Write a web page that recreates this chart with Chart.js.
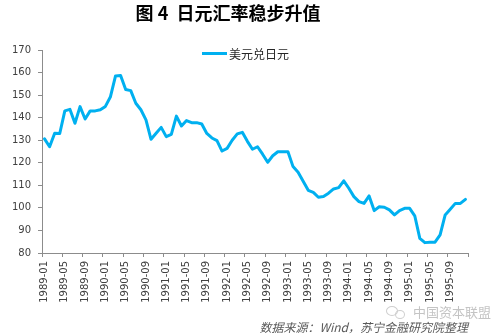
<!DOCTYPE html>
<html>
<head>
<meta charset="utf-8">
<script src="https://cdn.jsdelivr.net/npm/chart.js@4.4.1/dist/chart.umd.min.js"></script>
<style>
  html, body { margin: 0; padding: 0; background: #fff; }
  #wrap { position: relative; width: 500px; height: 334px; overflow: hidden; background: #fff; }
  #chart { position: absolute; left: 0; top: 0; }
  #title { position: absolute; left: 0; top: 0; width: 456px; text-align: center;
           font: bold 18px "Noto Sans CJK SC", sans-serif; line-height: 24px; color: #000; }
  #legend { position: absolute; left: 202px; top: 45px; height: 16px; display: flex; align-items: center;
            font: 12px "Noto Sans CJK SC", sans-serif; color: #262626; white-space: nowrap; }
  #legend i { display: inline-block; width: 25px; height: 3px; margin-right: 2px; }
  #mark { position: absolute; left: 386px; top: 302px; height: 18px; display: flex; align-items: center;
          font: 13px "Noto Sans CJK SC", sans-serif; color: #c4c4c4; white-space: nowrap; }
  #mark b { display: inline-block; width: 10px; height: 8px; border: 1.5px solid #cfcfcf; border-radius: 50%; margin-right: 2px; }
  #mark b + b { width: 8px; height: 7px; margin-right: 8px; margin-left: -5px; margin-top: 6px; }
  #source { position: absolute; right: 32px; top: 318px; font: italic 12px "Noto Sans CJK SC", sans-serif;
            line-height: 18px; color: #595959; white-space: nowrap; }
</style>
</head>
<body>
<div id="wrap">
  <canvas id="chart" width="500" height="334"></canvas>
  <div id="title">图 4&nbsp; 日元汇率稳步升值</div>
  <div id="legend"><i id="legendSwatch"></i><span id="legendText"></span></div>
  <div id="mark"><b></b><b></b>中国资本联盟</div>
  <div id="source">数据来源：Wind，苏宁金融研究院整理</div>
</div>
<script>
// Month-end USD/JPY, one array per year
const years = [1989, 1990, 1991, 1992, 1993, 1994, 1995];
const monthCodes = ['01','02','03','04','05','06','07','08','09','10','11','12'];

const usdJpy1989 = [130.6, 127.1, 133.1, 133.0, 143.0, 143.7, 137.5, 144.9, 139.4, 143.0, 143.0, 143.5];
const usdJpy1990 = [145.0, 149.3, 158.5, 158.7, 152.5, 152.0, 146.4, 143.5, 139.0, 130.4, 133.1, 135.7];
const usdJpy1991 = [131.6, 132.6, 140.7, 136.3, 138.7, 137.8, 137.8, 137.2, 133.0, 131.0, 129.8, 125.2];
const usdJpy1992 = [126.4, 130.0, 132.8, 133.5, 129.5, 126.0, 127.1, 123.8, 120.2, 123.1, 124.9, 124.9];
const usdJpy1993 = [124.9, 118.3, 115.8, 111.8, 107.8, 106.9, 104.7, 105.0, 106.5, 108.4, 109.0, 112.0];
const usdJpy1994 = [108.7, 105.0, 102.8, 102.0, 105.3, 98.8, 100.5, 100.3, 99.1, 96.9, 98.8, 99.8];
const usdJpy1995 = [99.8, 96.5, 86.5, 84.6, 84.8, 84.8, 88.0, 96.9, 99.4, 102.0, 102.0, 103.8];

const seriesName = '美元兑日元';
const lineColor = '#00b0f0';

const yTicks = [80, 90, 100, 110, 120, 130, 140, 150, 160, 170];
const labelEvery = 4;

const categories = [];
years.forEach(y => monthCodes.forEach(m => categories.push(y + '-' + m)));
const values = [].concat(usdJpy1989, usdJpy1990, usdJpy1991, usdJpy1992, usdJpy1993, usdJpy1994, usdJpy1995);

document.getElementById('legendSwatch').style.background = lineColor;
document.getElementById('legendText').textContent = seriesName;

const axisGrey = '#8c8c8c';
const tickFont = { family: 'DejaVu Sans', size: 10 };

new Chart(document.getElementById('chart'), {
  type: 'line',
  data: {
    labels: categories,
    datasets: [{
      label: seriesName,
      data: values,
      borderColor: lineColor,
      backgroundColor: lineColor,
      borderWidth: 3,
      borderJoinStyle: 'round',
      borderCapStyle: 'round',
      pointRadius: 0,
      tension: 0,
      fill: false
    }]
  },
  options: {
    responsive: false,
    animation: false,
    devicePixelRatio: 1,
    layout: { padding: { top: 50, right: 32, left: 0, bottom: 0 } },
    plugins: { legend: { display: false }, title: { display: false }, tooltip: { enabled: false } },
    scales: {
      x: {
        type: 'category',
        offset: true,
        afterFit: s => { s.height = 81; },
        grid: {
          offset: true,
          drawOnChartArea: false,
          drawTicks: true,
          tickLength: 4,
          color: c => (c.index === undefined || c.index % labelEvery === 0) ? axisGrey : 'rgba(0,0,0,0)'
        },
        border: { display: true, color: axisGrey, width: 1 },
        ticks: {
          autoSkip: false,
          maxRotation: 90,
          minRotation: 90,
          padding: 4,
          color: '#404040',
          font: tickFont,
          callback: function (v, i) { return i % labelEvery === 0 ? this.getLabelForValue(v) : ''; }
        }
      },
      y: {
        min: yTicks[0],
        max: yTicks[yTicks.length - 1],
        afterFit: s => { s.width = 42; },
        afterBuildTicks: s => { s.ticks = yTicks.map(v => ({ value: v })); },
        grid: { drawOnChartArea: false, drawTicks: true, tickLength: 4, color: axisGrey },
        border: { display: true, color: axisGrey, width: 1 },
        ticks: { padding: 7, color: '#404040', font: tickFont }
      }
    }
  }
});
</script>
</body>
</html>
